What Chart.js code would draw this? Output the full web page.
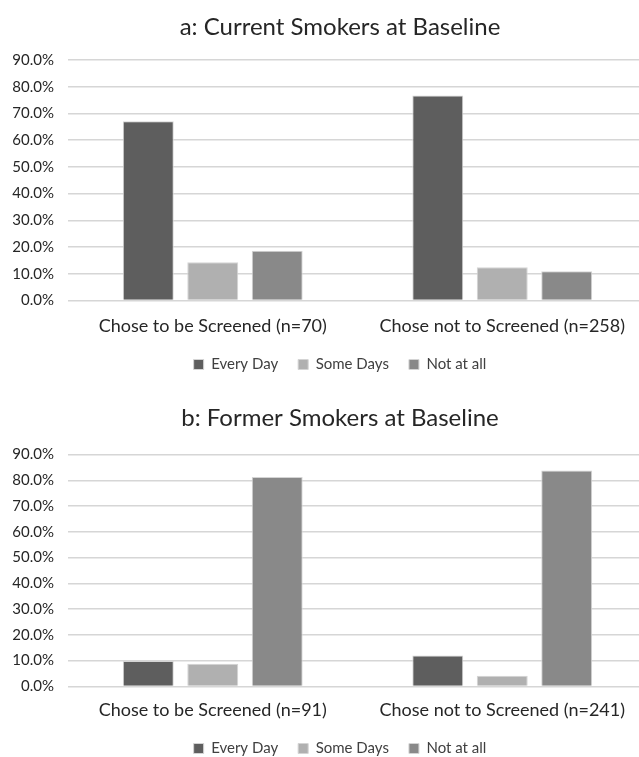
<!DOCTYPE html>
<html>
<head>
<meta charset="utf-8">
<script src="https://cdn.jsdelivr.net/npm/chart.js@4.4.1/dist/chart.umd.min.js"></script>
<style>
  html, body { margin: 0; padding: 0; background: #ffffff; overflow: hidden; width: 639px; height: 757px; }
  .wrap { position: absolute; left: 0; }
  canvas { display: block; }
</style>
</head>
<body>
<div class="wrap" style="top:0px"><canvas id="chartA" width="680" height="382"></canvas></div>
<div class="wrap" style="top:380px"><canvas id="chartB" width="680" height="386"></canvas></div>
<script>
// ---- Data ----
const seriesNames = ["Every Day", "Some Days", "Not at all"];
const seriesColors = ["#5e5e5e", "#b0b0b0", "#898989"];

const titleA = "a: Current Smokers at Baseline";
const categoriesA = ["Chose to be Screened (n=70)", "Chose not to Screened (n=258)"];
const everyDayA = [67.1, 76.7];
const someDaysA = [14.3, 12.4];
const notAtAllA = [18.6, 10.9];

const titleB = "b: Former Smokers at Baseline";
const categoriesB = ["Chose to be Screened (n=91)", "Chose not to Screened (n=241)"];
const everyDayB = [9.9, 12.0];
const someDaysB = [8.8, 4.1];
const notAtAllB = [81.3, 83.8];

const yTicks = [0, 10, 20, 30, 40, 50, 60, 70, 80, 90];

const FONT = "Lato, 'Liberation Sans', sans-serif";

function makeChart(id, title, categories, seriesValues, pad) {
  const datasets = seriesValues.map((vals, i) => ({
    label: seriesNames[i],
    data: vals,
    backgroundColor: seriesColors[i],
    borderColor: "#d4d4d4",
    borderWidth: 1,
    categoryPercentage: 0.668,
    barPercentage: 0.79
  }));
  return new Chart(document.getElementById(id), {
    type: "bar",
    data: { labels: categories, datasets },
    options: {
      responsive: false,
      animation: false,
      devicePixelRatio: 1,
      layout: { padding: 0 },
      plugins: {
        title: {
          display: true,
          text: title,
          color: "#262626",
          font: { family: FONT, size: 24, weight: "normal" },
          padding: { top: pad.titleTop, bottom: pad.titleBottom }
        },
        legend: {
          display: true,
          position: "bottom",
          labels: {
            color: "#404040",
            font: { family: FONT, size: 15 },
            boxWidth: 10,
            boxHeight: 10,
            padding: 20
          }
        },
        tooltip: { enabled: false }
      },
      scales: {
        x: {
          grid: { display: false, drawTicks: false },
          border: { display: false },
          afterFit: (scale) => { scale.height = pad.xTickPad + 21.6; },
          ticks: {
            color: "#262626",
            font: { family: FONT, size: 18 },
            padding: pad.xTickPad,
            maxRotation: 0
          }
        },
        y: {
          min: 0,
          max: 90,
          afterBuildTicks: (scale) => { scale.ticks = yTicks.map(v => ({ value: v })); },
          afterFit: (scale) => { scale.width = 68; },
          grid: { color: "#d6d6d6", lineWidth: 1.5, drawTicks: false },
          border: { display: false },
          ticks: {
            color: "#262626",
            font: { family: FONT, size: 15 },
            padding: 14,
            callback: (v) => Number(v).toFixed(1) + "%"
          }
        },
        yRight: {
          position: "right",
          display: true,
          grid: { display: false, drawTicks: false },
          border: { display: false },
          ticks: { display: false },
          afterFit: (scale) => { scale.width = 33; }
        }
      }
    }
  });
}

makeChart("chartA", titleA, categoriesA, [everyDayA, someDaysA, notAtAllA],
  { titleTop: 13, titleBottom: 18.2, xTickPad: 15 });
makeChart("chartB", titleB, categoriesB, [everyDayB, someDaysB, notAtAllB],
  { titleTop: 23.5, titleBottom: 22.2, xTickPad: 13 });
</script>
</body>
</html>
